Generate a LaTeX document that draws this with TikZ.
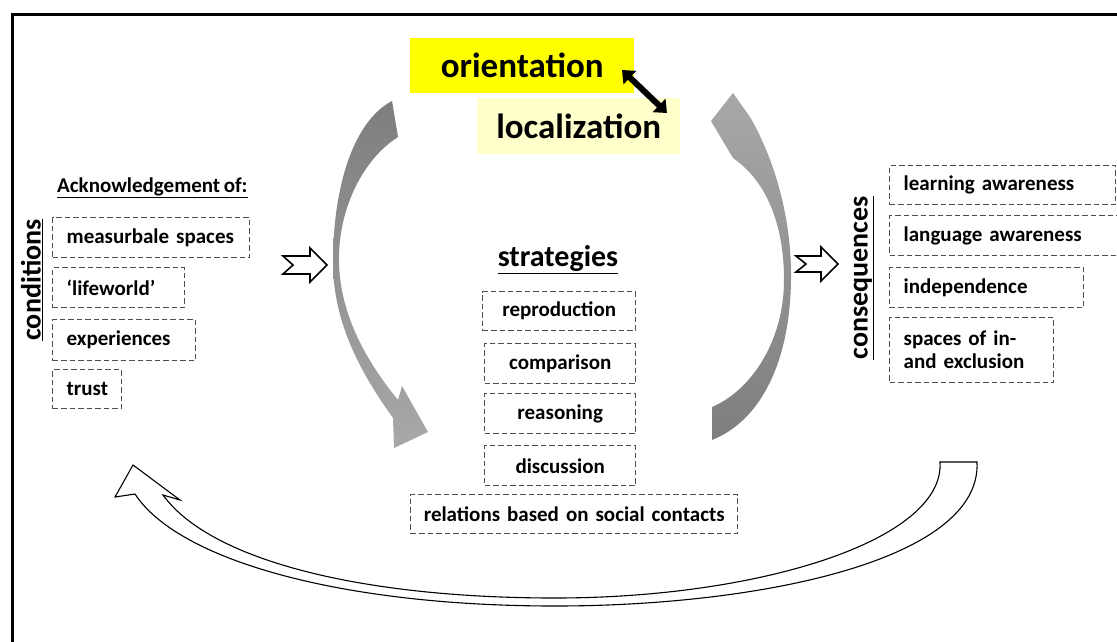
\documentclass[tikz,border=0pt]{standalone}
\usepackage{fontspec}
\setmainfont{Carlito}[WordSpace=0.75]
\usetikzlibrary{arrows.meta}
\definecolor{hlyellow}{HTML}{FFFF00}
\definecolor{paleyellow}{HTML}{FFFFCC}
\definecolor{boxline}{HTML}{505050}
\definecolor{arrowdark}{HTML}{7E7E7E}
\definecolor{arrowlight}{HTML}{A8A8A8}
\begin{document}
\begin{tikzpicture}[x=1pt,y=-1pt,
  itemfont/.style={font=\bfseries\fontsize{21}{23}\selectfont},
  dbox/.style={draw=boxline, dash pattern=on 5.5pt off 3pt, line width=1.4pt,
    inner ysep=0pt, itemfont, anchor=north west},
  leftbox/.style={dbox, align=left, inner xsep=14pt},
  midbox/.style={dbox, align=center, inner xsep=0pt},
  heading/.style={font=\bfseries\fontsize{#1}{#1}\selectfont, inner sep=0pt},
  keybox/.style={inner sep=0pt, font=\bfseries\fontsize{35}{37}\selectfont},
  hollowarrow/.style={draw=black, line width=1.6pt, fill=white, line join=miter},
  framestroke/.style={line width=3pt, draw=black}]

\useasboundingbox (0,0) rectangle (1117,641);

% outer frame, open to the right and bottom
\draw[framestroke] (12,645) -- (12,14) -- (1121,14);

% central key terms
\node[keybox, fill=hlyellow, minimum width=224pt, minimum height=55pt, anchor=north west]
  (ori) at (410,38) {orientation};
\node[keybox, fill=paleyellow, minimum width=203pt, minimum height=56pt, anchor=north west]
  (loc) at (477,98) {localization};
\coordinate (oriend) at (622,70);
\coordinate (locend) at (667,113);
\draw[line width=6pt, {Triangle[length=11pt,width=18pt]}-{Triangle[length=11pt,width=18pt]}]
  (oriend) -- (locend);

% conditions
\node[heading=28, rotate=90] (cond) at (32,280) {\underline{conditions}};
\node[heading=21, anchor=west] (ack) at (57,188) {\underline{Acknowledgement of:}};
\node[leftbox, text width=169pt, minimum height=40pt] (ms) at (52,217) {measurbale spaces};
\node[leftbox, text width=104pt, minimum height=40pt] (lw) at (52,267) {`lifeworld'};
\node[leftbox, text width=115pt, minimum height=41pt] (ex) at (52,319) {experiences};
\node[leftbox, text width=41pt, minimum height=39pt] (tr) at (52,369) {trust};

% strategies
\node[heading=30] (strat) at (558,260) {\underline{strategies}};
\node[midbox, text width=153pt, minimum height=39pt] (rep) at (482,291) {reproduction};
\node[midbox, text width=151pt, minimum height=40pt] (com) at (484,343) {comparison};
\node[midbox, text width=151pt, minimum height=40pt] (rea) at (484,393) {reasoning};
\node[midbox, text width=151pt, minimum height=40pt] (dis) at (484,445) {discussion};
\node[midbox, text width=327pt, minimum height=39pt] (rel) at (410,494) {relations based on social contacts};

% consequences
\node[heading=28, rotate=90] (cons) at (864,278) {\underline{consequences}};
\node[leftbox, text width=198pt, minimum height=39pt] (lea) at (889,165) {learning awareness};
\node[leftbox, text width=204pt, minimum height=40pt] (lan) at (889,215) {language awareness};
\node[leftbox, text width=166pt, minimum height=40pt] (ind) at (889,267) {independence};
\node[leftbox, text width=136pt, minimum height=65pt] (spc) at (889,317) {spaces of in-\\and exclusion};

% notched arrows towards the strategies and the consequences
\draw[hollowarrow] (283,256) -- (310,256) -- (310,248) -- (327,265) -- (310,282)
  -- (310,274) -- (283,274) -- (293,265) -- cycle;
\draw[hollowarrow] (796,256) -- (821,256) -- (821,247) -- (838,264) -- (821,281)
  -- (821,272) -- (796,272) -- (806,264) -- cycle;

% curved grey arrow, descending on the left
\shade[top color=arrowdark, bottom color=arrowlight]
  (392,101) -- (398,137)
  .. controls (362,160) and (338,210) .. (339,262)
  .. controls (340,320) and (372,368) .. (398,400)
  -- (402,386) -- (428,432) -- (394,448) -- (393,418)
  .. controls (360,372) and (333,322) .. (333,262)
  .. controls (333,190) and (352,122) .. (392,101) -- cycle;

% curved grey arrow, rising on the right
\shade[top color=arrowlight, bottom color=arrowdark]
  (733,93) -- (750,117)
  .. controls (775,160) and (792,220) .. (791,280)
  .. controls (790,360) and (762,420) .. (712,440)
  -- (712,407)
  .. controls (752,390) and (784,340) .. (784,280)
  .. controls (784,222) and (765,180) .. (733,158)
  -- (711,121) -- cycle;

% feedback arrow along the bottom
\draw[line width=1.1pt, fill=white, line join=miter]
  (940,462) -- (977,462)
  .. controls (982,560) and (760,606) .. (555,606)
  .. controls (340,606) and (178,560) .. (135,494)
  -- (115,497) -- (133,465) -- (180,500) -- (163,495)
  .. controls (210,560) and (360,598) .. (555,598)
  .. controls (760,598) and (945,540) .. (940,462) -- cycle;
\end{tikzpicture}
\end{document}
